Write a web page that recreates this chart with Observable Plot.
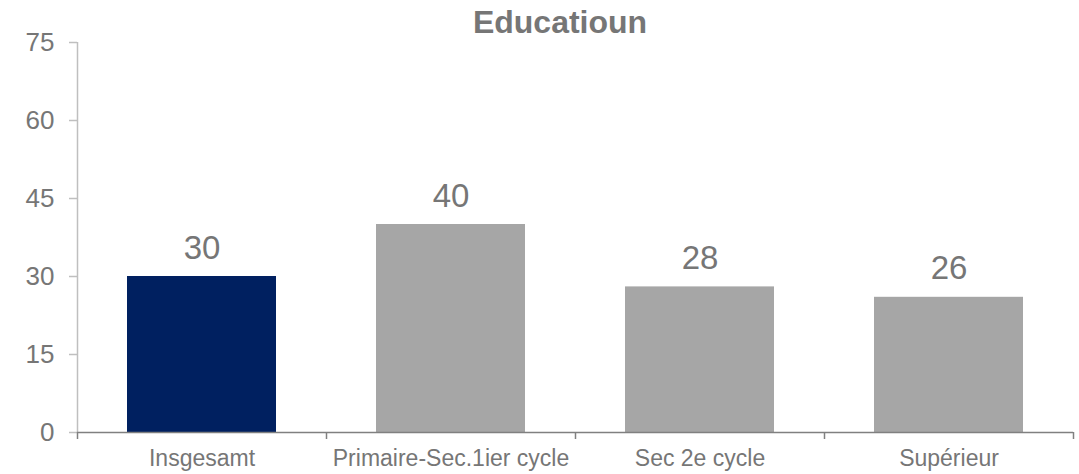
<!DOCTYPE html>
<html>
<head>
<meta charset="utf-8">
<script src="https://cdn.jsdelivr.net/npm/d3@7"></script>
<script src="https://cdn.jsdelivr.net/npm/@observablehq/plot@0.6"></script>
<style>
  html, body { margin: 0; padding: 0; background: #fff; }
  #wrap { position: relative; width: 1079px; height: 474px; font-family: "Liberation Sans", Arial, sans-serif; }
  #title { position: absolute; left: 0; top: 4px; width: 1120px; text-align: center; font-size: 32px; font-weight: bold; color: #767676; line-height: 36px; }
</style>
</head>
<body>
<div id="wrap"><div id="chart"></div><div id="title">Educatioun</div></div>
<script>
const categories = ["Insgesamt", "Primaire-Sec.1ier cycle", "Sec 2e cycle", "Supérieur"];
const values = [30, 40, 28, 26];
const barColors = ["#002060", "#A6A6A6", "#A6A6A6", "#A6A6A6"];
const yTicks = [0, 15, 30, 45, 60, 75];

const data = categories.map((c, i) => ({category: c, value: values[i], color: barColors[i]}));

const W = 1079, H = 474, ML = 77, MR = 6, MT = 42, MB = 42;
const step = (W - ML - MR) / categories.length;
const textColor = "#767676";

const chart = Plot.plot({
  width: W,
  height: H,
  marginLeft: ML,
  marginRight: MR,
  marginTop: MT,
  marginBottom: MB,
  style: {fontFamily: '"Liberation Sans", Arial, sans-serif', background: "transparent"},
  x: {domain: categories, paddingInner: 0.4, paddingOuter: 0.2, align: 0.5, label: null},
  y: {domain: [0, 75], label: null},
  color: {type: "identity"},
  marks: [
    Plot.barY(data, {x: "category", y: "value", fill: "color"}),
    Plot.text(data, {x: "category", y: "value", text: d => String(d.value), lineAnchor: "bottom", dy: -18, fontSize: 33, fill: textColor}),
    // y axis line
    Plot.ruleX([categories[0]], {x: d => d, dx: -step / 2, y1: 0, y2: 75, stroke: "#BFBFBF", strokeWidth: 1.5}),
    Plot.axisY({ticks: yTicks, tickSize: 8, tickPadding: 15, fontSize: 26, color: textColor, stroke: "#BFBFBF", strokeWidth: 1.5, label: null}),
    // x axis line
    Plot.ruleY([0], {stroke: "#808080", strokeWidth: 1.5}),
    // category boundary ticks
    Plot.ruleX(categories, {x: d => d, dx: -step / 2, y1: 0, y2: 0, insetBottom: -7, stroke: "#808080", strokeWidth: 1.5}),
    Plot.ruleX([categories[categories.length - 1]], {x: d => d, dx: step / 2, y1: 0, y2: 0, insetBottom: -7, stroke: "#808080", strokeWidth: 1.5}),
    Plot.axisX({tickSize: 0, tickPadding: 17, fontSize: 23, color: textColor, label: null})
  ]
});
document.getElementById("chart").appendChild(chart);
</script>
</body>
</html>
